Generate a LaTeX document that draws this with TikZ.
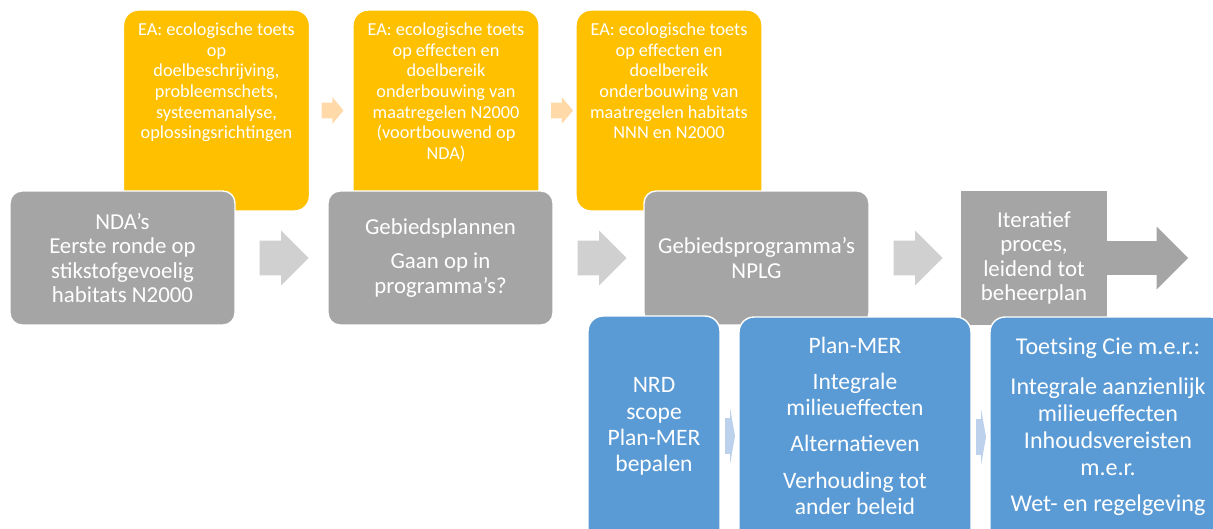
\documentclass[tikz,border=0pt]{standalone}
\usepackage{fontspec}
\setmainfont{Carlito}
\usepackage{xcolor}
\usepackage{tikz}
\usetikzlibrary{positioning, shapes.arrows}

\definecolor{eayellow}{HTML}{FFC000}
\definecolor{eapeach}{HTML}{FFDAA8}
\definecolor{stapgray}{HTML}{A5A5A5}
\definecolor{chevgray}{HTML}{D0D0D0}
\definecolor{merblue}{HTML}{5B9BD5}
\definecolor{merlight}{HTML}{BDD0EC}

\begin{document}
\begin{tikzpicture}[x=0.02cm, y=-0.02cm,
    ea/.style={fill=eayellow, draw=white, line width=0.8pt, rounded corners=0.3cm, minimum width=3.72cm, minimum height=4.02cm},
    eatxt/.style={text=white, align=center, inner sep=0pt, font=\fontsize{10.4}{11.7}\selectfont},
    stap/.style={fill=stapgray, draw=white, line width=0.8pt, rounded corners=0.24cm, minimum width=4.5cm, minimum height=2.68cm, text=white, align=center, font=\fontsize{13}{14}\selectfont},
    mer/.style={fill=merblue, draw=white, line width=0.8pt, rounded corners=0.3cm, minimum height=4.8cm},
    mertxt/.style={text=white, align=center, inner sep=0pt, font=\fontsize{13.4}{14.7}\selectfont},
    chev/.style={single arrow, fill=chevgray, inner xsep=0pt, inner ysep=0.34cm, single arrow head extend=0.2cm, minimum height=0.98cm},
    eapijl/.style={single arrow, fill=eapeach, inner xsep=0pt, inner ysep=0.15cm, single arrow head extend=0.11cm, single arrow tip angle=100, minimum height=0.44cm},
    merpijl/.style={single arrow, fill=merlight, inner xsep=0pt, inner ysep=0.35cm, single arrow head extend=0.2cm, single arrow tip angle=160, minimum height=0.2cm}
  ]
  \useasboundingbox (0,0) rectangle (1213,528);
  \clip (0,0) rectangle (1213,528);

  % ecologische toetsen
  \node[ea] (ea1) at (216.5,110.5) {};
  \node[ea] (ea2) at (446,110.5) {};
  \node[ea] (ea3) at (669,110.5) {};
  \node[eatxt, below=0.27cm of ea1.north] (ea1txt) {EA: ecologische toets\\op\\doelbeschrijving,\\probleemschets,\\systeemanalyse,\\oplossingsrichtingen};
  \node[eatxt, below=0.27cm of ea2.north] (ea2txt) {EA: ecologische toets\\op effecten en\\doelbereik\\onderbouwing van\\maatregelen N2000\\(voortbouwend op\\NDA)};
  \node[eatxt, below=0.27cm of ea3.north] (ea3txt) {EA: ecologische toets\\op effecten en\\doelbereik\\onderbouwing van\\maatregelen habitats\\NNN en N2000};
  \foreach \a in {ea1,ea2}
    \node[eapijl, right=0.22cm of \a] (pijl\a) {};

  % stappen
  \node[stap] (g1) at (122.5,258) {NDA’s\\Eerste ronde op\\stikstofgevoelig\\habitats N2000};
  \node[stap] (g2) at (440.5,258) {Gebiedsplannen\\[0.2cm]Gaan op in\\programma’s?};
  \node[stap] (g3) at (756.5,258) {Gebiedsprogramma’s\\NPLG};
  \node[stap, rounded corners=0pt, draw=none, minimum width=2.92cm] (g4) at (1034,258) {Iteratief\\proces,\\leidend tot\\beheerplan};
  \foreach \a in {g1,g2,g3}
    \node[chev, right=0.47cm of \a] (chev\a) {};
  \node[chev, fill=stapgray, inner ysep=0.33cm, single arrow head extend=0.29cm, minimum height=1.62cm, right=-0.02cm of g4] (uit) {};

  % plan-MER spoor
  \node[mer, minimum width=2.64cm] (b1) at (654,436) {};
  \node[mer, minimum width=4.64cm] (b2) at (855,437) {};
  \node[mer, minimum width=4.72cm] (b3) at (1108,437) {};
  \foreach \a in {b1,b2}
    \node[merpijl, right=0.08cm of \a] (pijl\a) {};
  \node[mertxt, font=\fontsize{13.4}{15}\selectfont, below=1.24cm of b1.north] (b1txt) {NRD\\scope\\Plan-MER\\bepalen};
  \node[mertxt, below=0.4cm of b2.north] (b2txt) {Plan-MER\\[0.22cm]Integrale\\milieueffecten\\[0.2cm]Alternatieven\\[0.22cm]Verhouding tot\\ander beleid};
  \node[mertxt, font=\fontsize{13.7}{15.4}\selectfont, below=0.42cm of b3.north] (b3txt) {Toetsing Cie m.e.r.:\\[0.26cm]Integrale aanzienlijk\\milieueffecten\\Inhoudsvereisten\\m.e.r.\\[0.18cm]Wet- en regelgeving};
\end{tikzpicture}
\end{document}
